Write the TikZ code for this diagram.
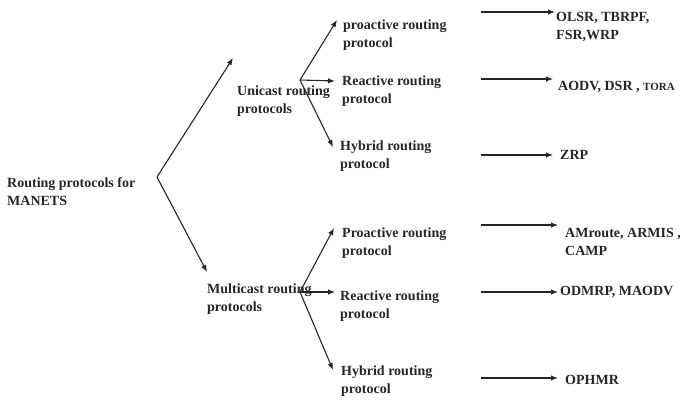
\documentclass[tikz,border=0pt]{standalone}
\usepackage{fontspec}
\setmainfont{Liberation Serif}
\usetikzlibrary{arrows.meta}
\begin{document}
\begin{tikzpicture}[x=1pt,y=-1pt,
  lbl/.style={anchor=west,align=left,inner sep=0pt,text=black!85,font=\fontsize{14}{18}\selectfont\bfseries},
  arr/.style={-{Latex[length=7pt,width=5.5pt]},line width=1.1pt,draw=black!85}]
\useasboundingbox (0,0) rectangle (680,399);
% text nodes
\node[lbl] (root) at (7,192) {Routing protocols for\\MANETS};
\node[lbl] (uni) at (237,101) {Unicast routing\\protocols};
\node[lbl] (multi) at (207,299) {Multicast routing\\protocols};
\node[lbl] (up) at (343,35) {proactive routing\\protocol};
\node[lbl] (ur) at (342,91) {Reactive routing\\protocol};
\node[lbl] (uh) at (340,156) {Hybrid routing\\protocol};
\node[lbl] (mp) at (342,243) {Proactive routing\\protocol};
\node[lbl] (mr) at (340,306) {Reactive routing\\protocol};
\node[lbl] (mh) at (341,381) {Hybrid routing\\protocol};
\node[lbl] (l1) at (556,27) {OLSR, TBRPF,\\FSR,WRP};
\node[lbl] (l2) at (558,87) {AODV, DSR , {\fontsize{11}{13}\selectfont TORA}};
\node[lbl] (l3) at (560,155) {ZRP};
\node[lbl] (l4) at (565,242) {AMroute, ARMIS ,\\CAMP};
\node[lbl] (l5) at (560,292) {ODMRP, MAODV};
\node[lbl] (l6) at (565,380) {OPHMR};
% branch points and arrow ends
\coordinate (rv) at (157,177);
\coordinate (rtu) at (233,58);
\coordinate (rtm) at (207,272);
\coordinate (uv) at (300,80);
\coordinate (utp) at (337,20);
\coordinate (utr) at (335,81);
\coordinate (uth) at (333,147);
\coordinate (mv) at (300,292);
\coordinate (mtp) at (334,228);
\coordinate (mtr) at (335,292);
\coordinate (mth) at (333,370);
\coordinate (s1) at (481,12);  \coordinate (e1) at (555,12);
\coordinate (s2) at (481,79);  \coordinate (e2) at (553,79);
\coordinate (s3) at (481,155); \coordinate (e3) at (553,155);
\coordinate (s4) at (481,225); \coordinate (e4) at (558,225);
\coordinate (s5) at (481,292); \coordinate (e5) at (558,292);
\coordinate (s6) at (481,378); \coordinate (e6) at (558,378);
% connectors
\draw[arr] (rv) -- (rtu);
\draw[arr] (rv) -- (rtm);
\draw[arr] (uv) -- (utp);
\draw[arr] (uv) -- (utr);
\draw[arr] (uv) -- (uth);
\draw[arr] (mv) -- (mtp);
\draw[arr] (mv) -- (mtr);
\draw[arr] (mv) -- (mth);
\draw[arr] (s1) -- (e1);
\draw[arr] (s2) -- (e2);
\draw[arr] (s3) -- (e3);
\draw[arr] (s4) -- (e4);
\draw[arr] (s5) -- (e5);
\draw[arr] (s6) -- (e6);
\end{tikzpicture}
\end{document}
